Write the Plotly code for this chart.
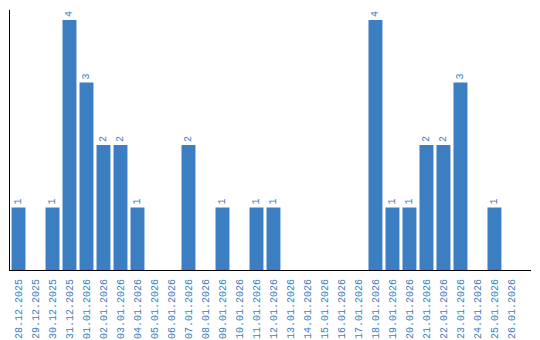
import plotly.graph_objects as go

dates = ["28.12.2025", "29.12.2025", "30.12.2025", "31.12.2025", "01.01.2026", "02.01.2026",
         "03.01.2026", "04.01.2026", "05.01.2026", "06.01.2026", "07.01.2026", "08.01.2026",
         "09.01.2026", "10.01.2026", "11.01.2026", "12.01.2026", "13.01.2026", "14.01.2026",
         "15.01.2026", "16.01.2026", "17.01.2026", "18.01.2026", "19.01.2026", "20.01.2026",
         "21.01.2026", "22.01.2026", "23.01.2026", "24.01.2026", "25.01.2026", "26.01.2026"]
counts = [1, 0, 1, 4, 3, 2, 2, 1, 0, 0, 2, 0, 1, 0, 1, 1, 0, 0, 0, 0, 0, 4, 1, 1, 2, 2, 3, 0, 1, 0]

blue = "#3b7ec2"
labels = [str(v) if v > 0 else "" for v in counts]

fig = go.Figure(go.Bar(
    x=dates, y=counts, marker_color=blue, marker_line_width=0,
    text=labels, textposition="outside", textangle=-90,
    textfont=dict(family="Liberation Mono", size=10, color=blue),
    cliponaxis=False,
))
fig.update_layout(
    width=540, height=340, margin=dict(l=10, r=9, t=10, b=70),
    paper_bgcolor="white", plot_bgcolor="white", bargap=0.18, showlegend=False,
    font=dict(family="Liberation Mono", size=10, color=blue),
)
fig.update_xaxes(type="category", range=[-0.5, 30.15], tickangle=-90, showline=True,
                 linecolor="black", linewidth=1, ticks="", showgrid=False, automargin=False,
                 ticklabelstandoff=4,
                 tickfont=dict(family="Liberation Mono", size=10, color=blue))
fig.update_yaxes(range=[0, 4.16], showline=True, linecolor="black", linewidth=1,
                 showticklabels=False, ticks="", showgrid=False, zeroline=False, automargin=False)
fig.write_html("out.html")
